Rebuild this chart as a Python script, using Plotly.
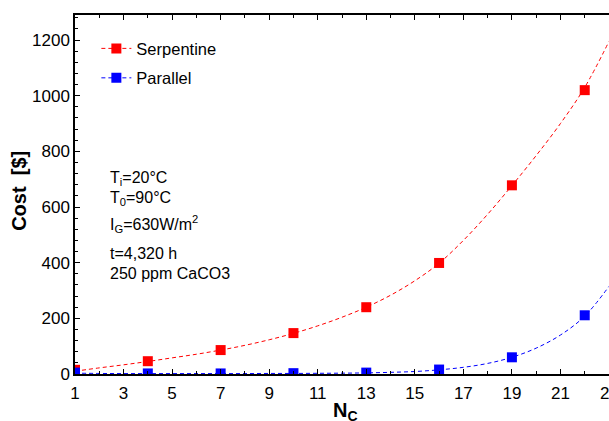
import plotly.graph_objects as go

# ---- data ----
nc = [1, 4, 7, 10, 13, 16, 19, 22]
serpentine = [15, 46, 86, 147, 240, 399, 678, 1020]
parallel = [5, 2, 2, 3, 5, 16, 60, 211]

# fitted dashed curves (at integer N_C)
fit_x = list(range(1, 24))
serpentine_fit = [10, 22, 33, 45, 58, 71, 86, 103, 123, 146, 173, 204, 240,
                  283, 335, 398, 480, 574, 677, 785, 900, 1030, 1195]
parallel_fit = [3, 2, 1.5, 1.5, 1.5, 1.5, 1.5, 1.5, 2, 2, 2.5, 3, 4,
                6, 9, 15, 24, 38, 60, 93, 140, 208, 315]

x_ticks = list(range(1, 24, 2))
x_minor = list(range(2, 24, 2))
y_ticks = [0, 200, 400, 600, 800, 1000, 1200]

notes = ["T<sub>i</sub>=20°C", "T<sub>0</sub>=90°C",
         "I<sub>G</sub>=630W/m<sup>2</sup>", "t=4,320 h", "250 ppm CaCO3"]
note_y = [0.545, 0.489, 0.419, 0.335, 0.281]

RED = "#FF0000"
BLUE = "#0000FF"
FONT = "Liberation Sans, Arial, sans-serif"

fig = go.Figure()
fig.add_trace(go.Scatter(x=fit_x, y=serpentine_fit, mode="lines",
                         line=dict(color=RED, width=1, dash="4px,3px", shape="spline"),
                         showlegend=False, hoverinfo="skip"))
fig.add_trace(go.Scatter(x=fit_x, y=parallel_fit, mode="lines",
                         line=dict(color=BLUE, width=1, dash="4px,3px", shape="spline"),
                         showlegend=False, hoverinfo="skip"))
fig.add_trace(go.Scatter(x=nc, y=serpentine, mode="markers", name="Serpentine",
                         marker=dict(symbol="square", size=10, color=RED),
                         showlegend=False))
fig.add_trace(go.Scatter(x=nc, y=parallel, mode="markers", name="Parallel",
                         marker=dict(symbol="square", size=10, color=BLUE),
                         showlegend=False))
# legend entries with dashed line + square marker
fig.add_trace(go.Scatter(x=[None], y=[None], mode="lines+markers", name="Serpentine",
                         line=dict(color=RED, width=1, dash="4px,3px"),
                         marker=dict(symbol="square", size=10, color=RED), legendgroup="a"))
fig.add_trace(go.Scatter(x=[None], y=[None], mode="lines+markers", name="Parallel",
                         line=dict(color=BLUE, width=1, dash="4px,3px"),
                         marker=dict(symbol="square", size=10, color=BLUE), legendgroup="b"))

for t, yy in zip(notes, note_y):
    fig.add_annotation(text=t, xref="paper", yref="paper", x=0.062, y=yy,
                       xanchor="left", yanchor="middle", showarrow=False,
                       font=dict(family=FONT, size=16, color="black"))

# axis titles as annotations (exact placement)
fig.add_annotation(text="<b>N<sub>C</sub></b>", xref="paper", yref="paper",
                   x=0.506, y=-0.104, xanchor="center", yanchor="middle", showarrow=False,
                   font=dict(family=FONT, size=20, color="black"))
fig.add_annotation(text="<b>Cost  [$]</b>", xref="paper", yref="paper", textangle=-90,
                   x=-0.105, y=0.51, xanchor="center", yanchor="middle", showarrow=False,
                   font=dict(family=FONT, size=20, color="black"))
# last (partly cut) x tick label at the right edge
fig.add_annotation(text=str(x_ticks[-1]), xref="paper", yref="paper",
                   x=1.0, y=-0.053, xanchor="center", yanchor="middle", showarrow=False,
                   font=dict(family=FONT, size=17, color="black"))

fig.update_layout(
    width=609, height=421,
    margin=dict(l=75, r=0, t=15, b=47),
    plot_bgcolor="white", paper_bgcolor="white",
    font=dict(family=FONT, size=16.5, color="black"),
    legend=dict(x=0.04, y=0.955, xanchor="left", yanchor="top",
                bgcolor="rgba(0,0,0,0)", traceorder="grouped", tracegroupgap=5,
                font=dict(family=FONT, size=16.5, color="black")),
    xaxis=dict(range=[1, 23], tickmode="array", tickvals=x_ticks,
               ticktext=[str(v) for v in x_ticks], automargin=False,
               ticks="inside", ticklen=5, tickwidth=1, tickcolor="black",
               minor=dict(tickmode="array", tickvals=x_minor, ticks="inside", ticklen=3, tickcolor="black"),
               showline=True, linecolor="black", linewidth=1.5, mirror="ticks",
               showgrid=False, zeroline=False, ticklabelstandoff=3,
               tickfont=dict(family=FONT, size=17, color="black")),
    yaxis=dict(range=[0, 1290], tickmode="array", tickvals=y_ticks, automargin=False,
               ticks="inside", ticklen=5, tickwidth=1, tickcolor="black",
               minor=dict(dtick=40, ticks="inside", ticklen=3, tickcolor="black"),
               showline=True, linecolor="black", linewidth=1.5, mirror=False,
               showgrid=False, zeroline=False,
               tickfont=dict(family=FONT, size=17, color="black")),
)

fig.write_html("out.html")
